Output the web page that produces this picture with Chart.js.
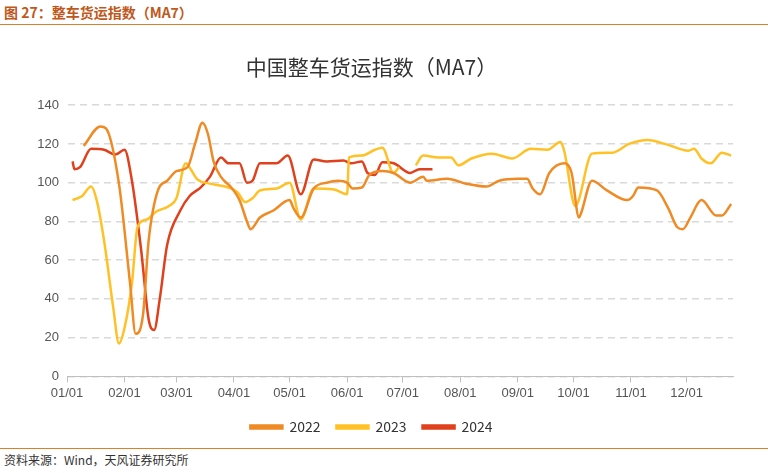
<!DOCTYPE html>
<html>
<head>
<meta charset="utf-8">
<script src="https://cdn.jsdelivr.net/npm/chart.js@4"></script>
<style>
  body { margin: 0; width: 768px; height: 473px; background: #fff; font-family: "Noto Sans CJK SC", "Noto Sans", sans-serif; position: relative; overflow: hidden; }
  #head { position: absolute; left: 4px; top: 2px; font-size: 14px; font-weight: bold; color: #C0581B; }
  #headLine { position: absolute; left: 0; right: 0; top: 24px; border-top: 1px solid #D9822B; }
  #foot { position: absolute; left: 4px; top: 451px; font-size: 12px; color: #333; }
  #footLine { position: absolute; left: 0; right: 0; top: 448px; border-top: 1px solid #D9822B; }
  #wrap { position: absolute; left: 0; top: 26px; width: 768px; height: 418px; }
</style>
</head>
<body>
<div id="head">图 27：整车货运指数（MA7）</div>
<div id="headLine"></div>
<div id="wrap"><canvas id="c"></canvas></div>
<div id="footLine"></div>
<div id="foot">资料来源：Wind，天风证券研究所</div>
<script>
// x = day of year
const tickDays = [0, 31, 59, 90, 120, 151, 181, 212, 243, 273, 304, 334];
const tickLabels = ['01/01', '02/01', '03/01', '04/01', '05/01', '06/01', '07/01', '08/01', '09/01', '10/01', '11/01', '12/01'];

const days2022 = [9,18,21,28,34,37,41,44,49,54,59,65,69,73,76,79,83,89,93,97,99,104,111,120,122,126,133,140,146,151,154,159,163,170,176,185,192,194,205,215,226,233,243,248,251,255,260,268,272,276,277,283,291,302,305,308,318,324,329,332,336,342,350,353,358];
const vals2022 = [119,129,128,99.5,48,22,32,70,96,101,106,108,120,131,125,111,103,97,91,80,76,82,85.5,91,87,82,97,100,101,100,97,97.5,104,106,105,100,103,101,102,99.5,98,101,102,102,97,94,105,110,105,82,84,101,96,91,93,97.5,96,87,77,76,82,91,83,83,89];

const days2023 = [3,8,13,16,20,25,28,31,35,38,43,48,55,59,64,66,70,77,87,92,96,100,104,113,120,126,133,144,151,152,159,166,170,176,179,183,188,192,200,207,211,218,229,240,250,259,266,268,274,283,294,303,313,324,335,338,342,347,353,358];
const vals2023 = [91,93,98,91,70,35,17,25,48,77,81,85,88,92,110,108,102,99.5,97.5,95,90,92,96,97,100,81,97,96.5,94,113,114,117,118,105,108,null,109,114,113,113,109,112.5,115,112.5,117.5,117,121,116.5,88,115,115.5,120,122,119.5,116.5,117.5,112.5,110,115.5,114];

const days2024 = [3,4,7,13,20,26,31,35,40,44,47,50,54,61,66,72,77,83,87,93,97,100,104,113,119,126,133,140,149,153,159,162,166,170,176,185,190,197];
const vals2024 = [111,107,108,117.5,117,114.5,117,101,65,29.5,24,40,68,85.5,93,97.5,103,113,110,110,100,101,110,110,114,94,112,111,111.5,110,111,105,104,110.5,110,105,107,107];

const seriesNames = ['2022', '2023', '2024'];
const colors = ['#F08A24', '#FFC125', '#E0401C'];

function pts(d, v) {
    return d.map((x, i) => ({ x: x, y: v[i] }));
}

const data = {
    datasets: [
        { label: seriesNames[0], data: pts(days2022, vals2022) },
        { label: seriesNames[1], data: pts(days2023, vals2023) },
        { label: seriesNames[2], data: pts(days2024, vals2024) }
    ].map((ds, i) => Object.assign(ds, {
        borderColor: colors[i], backgroundColor: colors[i], borderWidth: 2.5,
        pointRadius: 0, cubicInterpolationMode: 'monotone', spanGaps: false
    }))
};

new Chart(document.getElementById('c'), {
    type: 'line',
    data: data,
    options: {
        responsive: true,
        maintainAspectRatio: false,
        animation: false,
        layout: { padding: { left: 10, right: 35, top: 10, bottom: 0 } },
        plugins: {
            title: {
                display: true, text: '中国整车货运指数（MA7）', color: '#333',
                font: { size: 21, family: 'Noto Sans CJK SC', weight: 'normal' },
                padding: { top: 18, bottom: 26 }
            },
            legend: {
                position: 'bottom',
                labels: { boxWidth: 32, boxHeight: 3, color: '#333', padding: 16, font: { size: 14, family: 'Noto Sans CJK SC' } }
            },
            tooltip: { enabled: false }
        },
        scales: {
            x: {
                type: 'linear', min: 0, max: 359,
                afterBuildTicks: (axis) => { axis.ticks = tickDays.map(v => ({ value: v })); },
                ticks: {
                    autoSkip: false, maxRotation: 0, color: '#555', font: { size: 13 },
                    callback: (v) => tickLabels[tickDays.indexOf(v)]
                },
                grid: { display: true, drawOnChartArea: false, drawTicks: true, tickLength: 6, color: '#bfbfbf' },
                border: { color: '#bfbfbf' }
            },
            y: {
                min: 0, max: 140,
                ticks: { stepSize: 20, color: '#555', font: { size: 13 }, padding: 8 },
                grid: { color: '#d9d9d9', drawTicks: false, lineWidth: 1.5 },
                border: { display: true, color: 'rgba(0,0,0,0)', dash: [7, 5] },
                afterFit: (axis) => { axis.width = 57; }
            }
        }
    }
});
</script>
</body>
</html>
